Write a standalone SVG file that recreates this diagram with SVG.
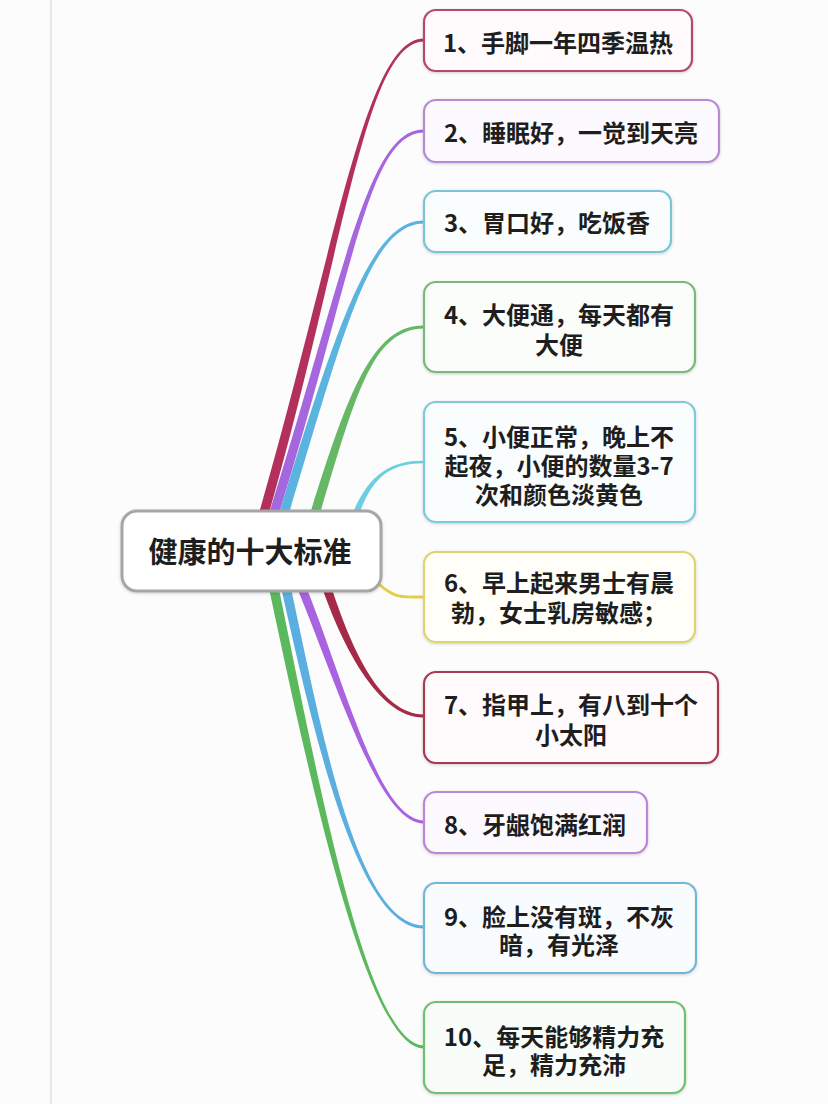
<svg xmlns="http://www.w3.org/2000/svg" width="828" height="1104" viewBox="0 0 828 1104">
<style>
  .bg { fill: #fcfcfc; }
  .box { stroke-width: 2.2; }
  .t { font-family: "Noto Sans CJK SC", "Noto Sans", sans-serif; font-weight: bold; font-size: 24px; fill: #1e1e1e; text-anchor: middle; }
  .root-t { font-size: 29px; }
  .c { stroke: none; }
</style>
<defs>
  <filter id="sh" x="-10%" y="-20%" width="120%" height="140%">
    <feDropShadow dx="0" dy="1" stdDeviation="1.6" flood-color="#000" flood-opacity="0.18"/>
  </filter>
</defs>
<rect class="bg" x="0" y="0" width="828" height="1104"/>
<line x1="51" y1="0" x2="51" y2="1104" stroke="#e2e2e2" stroke-width="1.5"/>

<g id="connectors">
  <path class="c" fill="#b3305c" d="M257 520 C335.5 250 365 37.8 424 38.5 L424 41.5 C365 42.2 344.5 250 267 520Z"/>
  <path class="c" fill="#a666de" d="M267 520 C345.5 270 368 128.8 424 129.5 L424 132.5 C368 133.2 354.5 270 277 520Z"/>
  <path class="c" fill="#5bb3df" d="M277 520 C335.5 330 370 219.8 424 220.5 L424 223.5 C370 224.2 344.5 330 287 520Z"/>
  <path class="c" fill="#66b866" d="M305 530 C345.5 400 370 324.8 424 325.5 L424 328.5 C370 329.2 354.5 400 315 530Z"/>
  <path class="c" fill="#6ccfdf" d="M348.5 525 C365 475 390 460.2 424 460.7 L424 463.3 C390 463.8 371 475 355.5 525Z"/>
  <path fill="none" stroke="#e3cf45" stroke-width="3" stroke-linecap="round" d="M372 578 C395 600 400 597 424 597"/>
  <path class="c" fill="#a52a47" d="M313 560 C340.5 650 380 718.2 424 717.5 L424 714.5 C380 713.8 349.5 650 323 560Z"/>
  <path class="c" fill="#a962e0" d="M285 560 C330.5 660 375 824.2 424 823.5 L424 820.5 C375 819.8 339.5 660 295 560Z"/>
  <path class="c" fill="#5aaee0" d="M275 560 C310.5 720 355 929.2 424 928.5 L424 925.5 C355 924.8 319.5 720 285 560Z"/>
  <path class="c" fill="#5cb85c" d="M263 560 C305.5 760 365 1049.2 424 1048.5 L424 1045.5 C365 1044.8 314.5 760 273 560Z"/>
</g>

<g id="root">
  <rect x="122" y="511" width="259" height="80" rx="15" fill="#ffffff" stroke="#a6a6a6" stroke-width="3" filter="url(#sh)"/>
  <text class="t root-t" x="250" y="563">健康的十大标准</text>
</g>

<g id="n1">
  <rect class="box" x="424" y="10" width="268" height="61" rx="12" fill="#fffafc" stroke="#b8476c" filter="url(#sh)"/>
  <text class="t" x="558" y="52">1、手脚一年四季温热</text>
</g>
<g id="n2">
  <rect class="box" x="424" y="100" width="295" height="62" rx="12" fill="#fdfaff" stroke="#b58bd6" filter="url(#sh)"/>
  <text class="t" x="571" y="142">2、睡眠好，一觉到天亮</text>
</g>
<g id="n3">
  <rect class="box" x="424" y="191" width="247" height="61" rx="12" fill="#f9fdfe" stroke="#7cc4d3" filter="url(#sh)"/>
  <text class="t" x="547" y="232">3、胃口好，吃饭香</text>
</g>
<g id="n4">
  <rect class="box" x="424" y="282" width="271" height="90" rx="12" fill="#fafdfa" stroke="#7ab87c" filter="url(#sh)"/>
  <text class="t" x="559" y="324">4、大便通，每天都有</text>
  <text class="t" x="559" y="354">大便</text>
</g>
<g id="n5">
  <rect class="box" x="424" y="402" width="271" height="120" rx="12" fill="#f9fdfe" stroke="#7dcbd7" filter="url(#sh)"/>
  <text class="t" x="559" y="446">5、小便正常，晚上不</text>
  <text class="t" x="559" y="475">起夜，小便的数量3-7</text>
  <text class="t" x="559" y="504">次和颜色淡黄色</text>
</g>
<g id="n6">
  <rect class="box" x="424" y="552" width="271" height="90" rx="12" fill="#fffef8" stroke="#ded56e" filter="url(#sh)"/>
  <text class="t" x="559" y="592">6、早上起来男士有晨</text>
  <text class="t" x="559" y="622">勃，女士乳房敏感；</text>
</g>
<g id="n7">
  <rect class="box" x="424" y="672" width="294" height="91" rx="12" fill="#fffafb" stroke="#a63a52" filter="url(#sh)"/>
  <text class="t" x="571" y="714">7、指甲上，有八到十个</text>
  <text class="t" x="571" y="744">小太阳</text>
</g>
<g id="n8">
  <rect class="box" x="424" y="792" width="223" height="61" rx="12" fill="#fdfaff" stroke="#bb85d8" filter="url(#sh)"/>
  <text class="t" x="535" y="834">8、牙龈饱满红润</text>
</g>
<g id="n9">
  <rect class="box" x="424" y="883" width="272" height="90" rx="12" fill="#f9fcfe" stroke="#74b5da" filter="url(#sh)"/>
  <text class="t" x="559" y="926">9、脸上没有斑，不灰</text>
  <text class="t" x="559" y="954">暗，有光泽</text>
</g>
<g id="n10">
  <rect class="box" x="424" y="1002" width="261" height="91" rx="12" fill="#f9fdf9" stroke="#70c070" filter="url(#sh)"/>
  <text class="t" x="554" y="1046">10、每天能够精力充</text>
  <text class="t" x="554" y="1074">足，精力充沛</text>
</g>
</svg>
